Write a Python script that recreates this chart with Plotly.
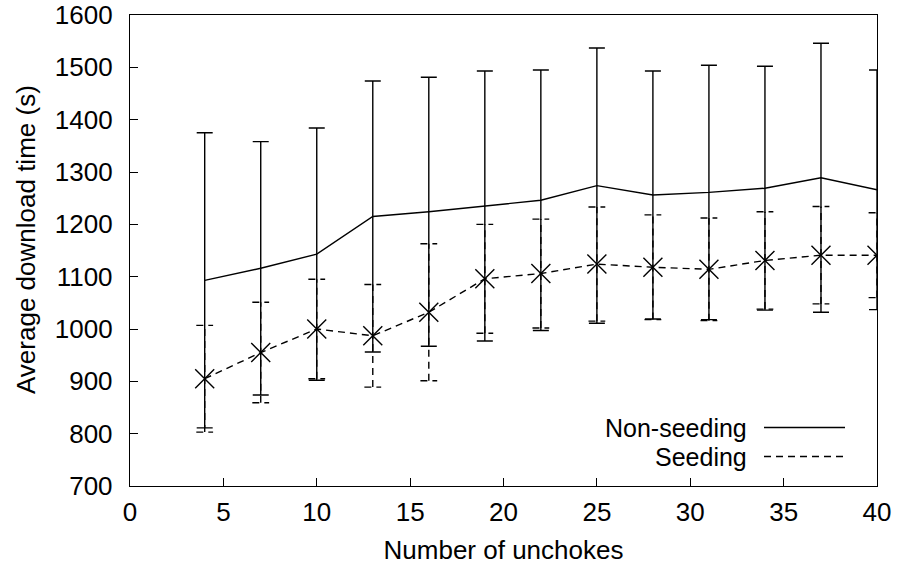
import plotly.graph_objects as go

unchokes = [4, 7, 10, 13, 16, 19, 22, 25, 28, 31, 34, 37, 40]
nonseed_mean = [1093, 1116, 1143, 1215, 1224, 1235, 1246, 1274, 1256, 1261, 1269, 1289, 1266]
nonseed_err = [282, 242, 241, 259, 257, 258, 249, 263, 237, 243, 233, 257, 229]
seed_mean = [905, 955, 1000, 987, 1032, 1096, 1106, 1124, 1118, 1114, 1131, 1141, 1141]
seed_err = [102, 96, 95, 98, 131, 104, 104, 109, 100, 98, 93, 93, 81]

FONT = "Liberation Sans, Arial, sans-serif"
FS = 26
CAP = 0.45  # half cap width in x units

L, R, T, B = 130, 877, 15, 486  # plot-area edges in px
def px_x(p):
    return (p - L) / (R - L)
def px_y(p):
    return 1 - (p - T) / (B - T)

# dashed error bars for the seeding series, built from the data arrays
ex, ey = [], []
for x, m, e in zip(unchokes, seed_mean, seed_err):
    lo, hi = m - e, m + e
    ex += [x, x, None, x - CAP, x + CAP, None, x - CAP, x + CAP, None]
    ey += [lo, hi, None, lo, lo, None, hi, hi, None]

fig = go.Figure()
fig.add_trace(go.Scatter(x=ex, y=ey, mode="lines", showlegend=False,
                         line=dict(color="black", width=1.4, dash="7px,5px"),
                         hoverinfo="skip"))
fig.add_trace(go.Scatter(
    x=unchokes, y=nonseed_mean, mode="lines", name="Non-seeding",
    line=dict(color="black", width=1.4),
    error_y=dict(type="data", array=nonseed_err, visible=True,
                 color="black", thickness=1.4, width=8)))
fig.add_trace(go.Scatter(
    x=unchokes, y=seed_mean, mode="lines+markers", name="Seeding",
    line=dict(color="black", width=1.4, dash="7px,5px"),
    marker=dict(symbol="x-thin-open", size=19, color="black",
                line=dict(color="black", width=1.4))))

# gnuplot-style key: text right-aligned, sample on the right
key = [("Non-seeding", 427.5, "solid"), ("Seeding", 456.5, "7px,5px")]
for text, ypx, dash in key:
    fig.add_annotation(xref="paper", yref="paper", x=px_x(749), y=px_y(ypx),
                       text=text, showarrow=False, xanchor="right", yanchor="middle",
                       font=dict(family=FONT, size=25, color="black"))
    fig.add_shape(type="line", xref="paper", yref="paper",
                  x0=px_x(764), x1=px_x(845), y0=px_y(ypx), y1=px_y(ypx),
                  line=dict(color="black", width=1.4, dash=dash))

# y-axis title
fig.add_annotation(xref="paper", yref="paper", x=px_x(26), y=px_y(240),
                   text="Average download time (s)", textangle=-90, showarrow=False,
                   xanchor="center", yanchor="middle",
                   font=dict(family=FONT, size=FS, color="black"))

axis_common = dict(showgrid=False, zeroline=False, showline=True, linecolor="black",
                   linewidth=1.4, mirror=True, ticks="inside", ticklen=8,
                   tickcolor="black", tickwidth=1, automargin=False,
                   tickfont=dict(family=FONT, size=FS, color="black"))
fig.update_xaxes(range=[0, 40], tickvals=[0, 5, 10, 15, 20, 25, 30, 35, 40],
                 ticklabelstandoff=3,
                 title=dict(text="Number of unchokes", standoff=14,
                            font=dict(family=FONT, size=FS, color="black")),
                 **axis_common)
fig.update_yaxes(range=[700, 1600], tickvals=list(range(700, 1601, 100)),
                 ticklabelstandoff=11, **axis_common)
fig.update_layout(width=898, height=569, showlegend=False,
                  margin=dict(l=L, r=898 - R, t=T, b=569 - B),
                  plot_bgcolor="white", paper_bgcolor="white")
fig.write_html("out.html")
